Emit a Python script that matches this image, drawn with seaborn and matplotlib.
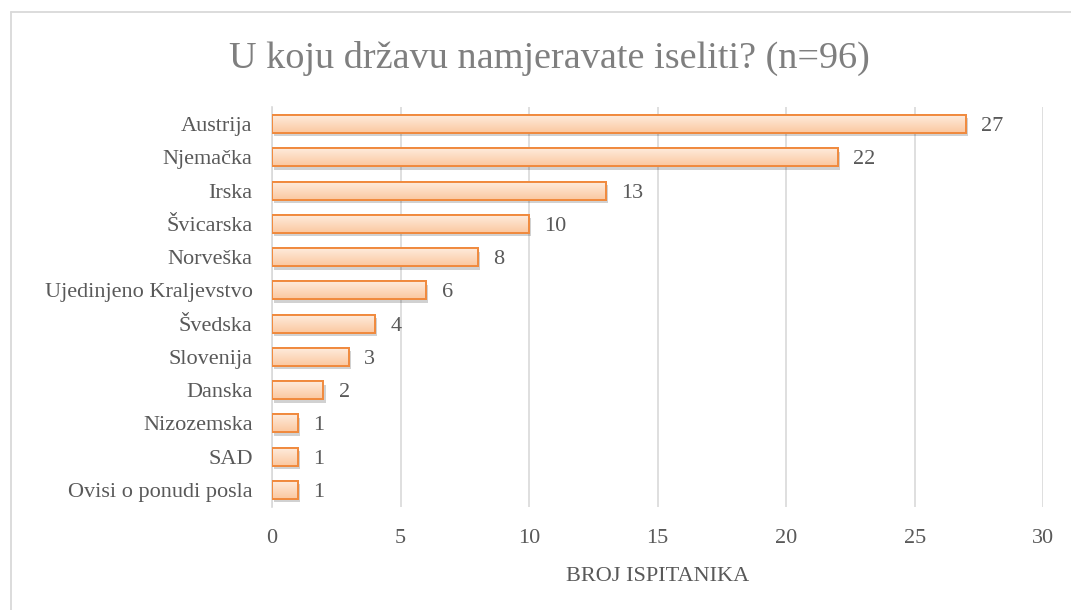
import numpy as np
import pandas as pd
import matplotlib
matplotlib.use("Agg")
import matplotlib.pyplot as plt
import matplotlib.patheffects as pe
from matplotlib.colors import LinearSegmentedColormap
import seaborn as sns

countries = ["Austrija", "Njemačka", "Irska", "Švicarska", "Norveška",
             "Ujedinjeno Kraljevstvo", "Švedska", "Slovenija", "Danska",
             "Nizozemska", "SAD", "Ovisi o ponudi posla"]
counts = [27, 22, 13, 10, 8, 6, 4, 3, 2, 1, 1, 1]
x_ticks = [0, 5, 10, 15, 20, 25, 30]
title = "U koju državu namjeravate iseliti? (n=96)"
x_label = "BROJ ISPITANIKA"

df = pd.DataFrame({"country": countries, "count": counts})

sns.set_theme(style="white")
plt.rcParams["font.family"] = ["Liberation Serif", "DejaVu Serif"]

text_color = "#595959"
fig = plt.figure(figsize=(10.71, 6.10), dpi=100)
ax = fig.add_axes([0.254, 0.1695, 0.720, 0.6545])

sns.barplot(data=df, x="count", y="country", orient="h", ax=ax,
            color="#FCD5B4", edgecolor="#F08A3E", linewidth=1.4, width=0.54,
            zorder=3)

cmap = LinearSegmentedColormap.from_list("g", ["#FEEBDC", "#FBC8A0"])
grad = np.linspace(0, 1, 64).reshape(-1, 1)
for p in ax.patches:
    p.set_path_effects([pe.SimplePatchShadow(offset=(1.5, -2.5), shadow_rgbFace="#000000", alpha=0.18),
                        pe.Normal()])
    x0, y0 = p.get_x(), p.get_y()
    w, h = p.get_width(), p.get_height()
    im = ax.imshow(grad, cmap=cmap, aspect="auto", extent=[x0, x0 + w, y0 + h, y0],
                   zorder=3.5, interpolation="bilinear")
    im.set_clip_path(p)
    p.set_facecolor("none")
    p2 = plt.Rectangle((x0, y0), w, h, fill=False, edgecolor="#F08A3E", linewidth=1.4, zorder=4)
    ax.add_patch(p2)

ax.set_xlim(0, 30)
ax.set_ylim(len(countries) - 0.5, -0.5)
ax.set_xticks(x_ticks)
ax.set_xticklabels([str(t) for t in x_ticks])
ax.xaxis.grid(True, color="#D9D9D9", linewidth=1.2, zorder=0)
ax.set_axisbelow(True)
for s in ["top", "right", "bottom"]:
    ax.spines[s].set_visible(False)
ax.spines["left"].set_color("#D9D9D9")
ax.spines["left"].set_linewidth(1.2)
ax.tick_params(axis="both", length=0, labelsize=16, colors=text_color)
ax.tick_params(axis="x", pad=16)
ax.tick_params(axis="y", pad=14)
ax.set_ylabel("")
ax.set_xlabel(x_label, fontsize=16, color=text_color, labelpad=14)

for i, v in enumerate(counts):
    ax.annotate(str(v), xy=(v, i), xytext=(11, 0), textcoords="offset points",
                va="center_baseline", ha="left", fontsize=16, color=text_color)

fig.text(0.513, 0.905, title, ha="center", va="center", fontsize=27.5, color="#7F7F7F")

# chart area border (top and left visible)
fig.add_artist(plt.Line2D([10.5 / 1071, 1.0], [1 - 11.5 / 610] * 2, color="#D9D9D9", lw=1.3, transform=fig.transFigure))
fig.add_artist(plt.Line2D([10.5 / 1071] * 2, [0, 1 - 11.5 / 610], color="#D9D9D9", lw=1.3, transform=fig.transFigure))

fig.savefig("out.png", dpi=100)
